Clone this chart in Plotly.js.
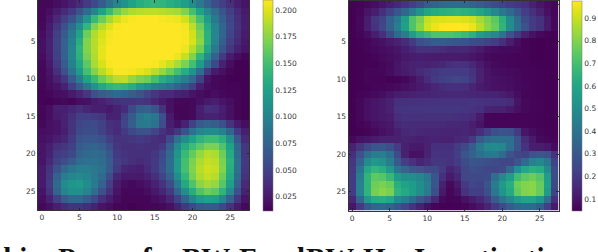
<!DOCTYPE html>
<html><head><meta charset="utf-8">
<script src="https://cdn.plot.ly/plotly-3.0.1.min.js"></script>
<style>html,body{margin:0;padding:0;background:#fff;overflow:hidden}#c{width:598px;height:252px}</style>
</head><body><div id="c"></div>
<script>
const leftValues = [
[15,15,18,22,28,35,45,55,68,85,100,112,125,135,140,142,140,135,130,122,108,90,72,58,48,38,28,22],
[15,18,26,35,45,62,80,100,125,145,165,178,185,188,190,190,188,185,182,172,150,125,102,82,62,48,35,25],
[15,22,34,48,62,85,115,145,165,182,196,204,208,210,210,210,208,206,204,196,175,150,120,92,70,52,38,27],
[16,26,42,60,82,110,142,172,188,200,208,210,210,210,210,210,210,210,210,206,190,165,132,100,75,55,40,28],
[18,28,48,68,92,125,165,186,198,206,210,210,210,210,210,210,210,210,210,208,196,172,138,102,75,52,38,26],
[20,30,50,72,98,135,172,188,200,208,210,210,210,210,210,210,210,210,210,208,198,175,138,100,70,48,35,24],
[20,30,50,72,100,140,172,188,202,210,210,210,210,210,210,210,210,210,210,204,188,165,128,92,62,42,30,22],
[18,28,48,72,100,138,168,186,202,210,210,210,210,210,210,210,210,210,204,192,172,140,105,72,45,26,18,14],
[16,25,45,68,98,130,160,184,198,208,210,210,210,210,210,208,202,194,184,170,150,118,85,55,30,18,12,12],
[15,22,38,60,88,118,150,172,188,200,208,208,206,202,198,188,178,165,150,135,112,82,45,25,20,14,12,12],
[15,20,30,42,68,95,125,145,165,178,188,190,178,170,165,150,135,125,110,95,78,50,22,16,14,12,12,12],
[14,18,22,30,48,68,90,112,130,140,145,142,135,118,110,98,92,85,72,62,48,28,18,16,14,13,13,12],
[13,15,18,20,25,32,42,60,70,75,78,75,70,62,52,42,35,35,30,28,22,18,16,18,16,14,13,12],
[13,12,14,16,14,18,20,26,30,35,38,40,40,42,40,32,25,20,16,15,16,20,24,28,22,18,14,12],
[15,18,28,28,32,38,32,28,28,24,30,36,55,70,72,62,40,20,14,14,16,28,38,36,28,20,14,12],
[14,18,26,30,38,48,48,46,42,30,30,50,68,88,95,88,60,25,15,14,16,26,30,30,26,20,14,12],
[16,20,22,30,40,52,55,56,50,38,36,52,70,90,92,85,58,28,20,30,50,68,72,70,60,40,25,18],
[18,20,22,28,40,55,58,58,50,40,35,45,55,62,62,52,40,32,42,60,85,100,105,105,98,75,45,28],
[20,22,28,32,45,62,65,65,60,48,40,40,42,45,42,38,35,55,85,108,125,140,148,148,138,108,65,35],
[22,28,38,42,50,68,72,75,70,58,42,38,38,40,38,38,45,70,105,132,148,160,170,170,155,125,78,42],
[22,30,45,48,55,72,78,80,78,65,45,40,38,38,38,42,55,78,115,145,162,178,188,185,165,132,82,42],
[22,34,50,58,68,82,85,85,82,68,48,42,38,35,38,45,58,82,118,150,170,185,192,190,170,138,85,45],
[25,40,60,78,88,95,95,90,85,68,45,32,30,28,35,45,60,82,118,150,172,188,195,192,172,135,85,42],
[25,42,72,95,102,105,100,92,80,58,32,25,25,25,30,38,52,72,108,142,168,185,192,188,165,130,80,40],
[25,45,78,105,115,118,108,92,72,48,25,18,16,18,22,30,40,58,92,130,155,175,182,178,158,122,72,35],
[22,40,75,100,110,110,100,82,60,40,22,15,15,15,18,24,32,45,75,108,135,155,165,160,140,105,60,30],
[18,30,50,68,78,78,68,55,38,28,18,14,14,14,15,18,22,32,50,75,100,118,125,122,102,72,42,22],
[16,20,28,35,40,40,36,30,22,18,14,13,12,13,14,14,16,20,30,42,55,65,68,66,55,40,25,16]
];
const rightValues = [
[50,55,65,80,100,125,150,180,215,260,310,340,360,370,370,360,340,310,280,260,230,210,190,170,130,100,75,60],
[50,60,95,125,170,235,295,355,435,520,590,620,635,645,650,640,625,590,540,480,420,360,290,215,175,130,85,60],
[50,65,120,190,230,330,420,560,720,790,890,920,925,930,930,925,905,850,800,740,640,490,370,260,210,175,110,65],
[50,65,120,180,240,340,440,570,720,810,910,945,970,976,976,970,945,880,810,760,650,500,380,280,210,175,110,65],
[50,60,80,120,170,260,360,440,560,640,680,720,720,720,700,680,640,560,520,480,400,280,200,130,90,65,55,50],
[48,52,60,75,90,110,130,160,210,270,290,310,310,300,290,280,260,250,230,210,170,120,80,55,50,48,50,50],
[48,50,60,65,75,85,100,125,150,175,175,170,160,150,145,145,130,110,85,75,70,70,65,55,50,48,50,50],
[48,50,52,60,70,80,90,105,115,125,120,115,115,115,115,110,100,85,70,62,62,60,55,55,50,48,50,50],
[48,50,52,52,62,72,100,118,130,135,130,140,150,170,180,175,150,115,85,70,62,60,55,55,52,50,50,50],
[48,50,60,60,62,75,100,115,130,155,175,195,205,210,210,205,180,130,95,80,75,70,65,60,55,52,50,50],
[48,50,58,55,55,50,52,62,85,120,160,200,220,230,240,235,190,130,100,90,82,75,70,60,55,52,50,50],
[48,50,52,60,60,65,72,85,95,110,125,145,160,170,170,165,140,115,100,90,85,80,70,62,55,52,50,50],
[48,55,62,70,80,100,120,125,130,135,140,145,150,150,150,150,145,140,135,135,125,105,80,60,55,52,50,50],
[50,62,85,100,110,130,170,175,175,175,180,180,180,180,180,180,185,180,175,170,170,160,95,65,60,55,50,50],
[50,62,85,100,110,130,180,185,185,185,190,190,190,190,190,185,180,170,135,130,130,110,85,65,60,55,50,50],
[50,62,85,100,110,120,165,175,175,175,175,175,175,175,170,165,155,110,60,55,55,55,55,55,55,52,50,50],
[48,55,65,85,95,105,150,160,155,155,155,155,155,150,150,145,125,95,60,58,58,60,60,60,55,52,50,50],
[48,50,55,70,85,100,125,150,155,150,145,145,140,140,140,145,130,165,215,270,280,275,210,100,75,60,52,50],
[65,90,100,115,130,130,130,135,130,125,130,135,130,130,150,155,200,310,370,390,390,380,280,160,110,70,60,55],
[130,190,250,290,300,270,210,130,110,105,130,170,170,170,210,250,320,420,480,490,470,380,280,180,125,120,105,75],
[170,280,380,430,440,380,260,130,85,90,135,180,180,180,220,290,340,380,420,420,370,280,240,230,280,300,280,180],
[190,330,490,540,520,440,310,220,180,140,160,190,190,180,210,260,290,280,270,260,240,240,290,370,450,470,420,230],
[200,400,600,660,630,540,410,350,300,280,260,250,200,140,170,240,270,260,240,240,260,350,510,600,640,620,490,260],
[210,440,650,740,730,670,550,510,500,470,420,290,170,110,150,240,250,250,260,380,480,560,690,740,770,730,560,260],
[210,450,650,770,790,760,630,580,550,500,440,290,130,70,110,200,240,230,290,430,550,630,770,800,810,760,570,250],
[210,450,650,780,810,790,650,610,560,500,430,270,110,60,90,180,220,220,270,420,530,610,750,800,810,760,550,230],
[150,350,540,620,630,600,490,440,370,300,240,150,70,55,60,90,120,150,200,310,410,480,550,590,590,530,380,170],
[100,200,300,350,360,340,290,240,180,130,85,60,50,50,52,60,75,100,140,200,260,310,350,370,360,320,220,110]
];
const axisTicks = [0,5,10,15,20,25];
const leftBarTicks = [0.025,0.05,0.075,0.1,0.125,0.15,0.175,0.2];
const rightBarTicks = [0.1,0.2,0.3,0.4,0.5,0.6,0.7,0.8,0.9];
const captionWords = ["Masking","Power","for","BW-F","and","BW-H.","Investigating"];

const W = 598, H = 252;
const captionLeft = [-50,58,142,182,258,306,414];
const toUnit = m => m.map(r => r.map(v => v / 1000));
const tickFont = {family: "DejaVu Sans", size: 7.5, color: "#333"};
function bar(tickvals, fmt, xPx, top, bottom) {
  return {x: xPx / W, xanchor: "left", xpad: 0, ypad: 0, thickness: 10, thicknessmode: "pixels",
    y: 1 - top / H, yanchor: "top", len: (bottom - top) / H, lenmode: "fraction",
    tickmode: "array", tickvals, ticktext: tickvals.map(v => v.toFixed(fmt)), ticks: "", tickfont: tickFont,
    outlinewidth: 0.5, outlinecolor: "#777"};
}
function xAxis(a, b, anchor) {
  return {domain: [a / W, b / W], range: [-0.5, 27.5], anchor, tickmode: "array", tickvals: axisTicks,
    ticks: "inside", ticklen: 2.5, tickwidth: 0.8, tickcolor: "#222", showgrid: false, zeroline: false,
    showline: true, linecolor: "#333", linewidth: 1, mirror: "ticks", tickfont: tickFont};
}
function yAxis(t, b, anchor) {
  return {domain: [1 - b / H, 1 - t / H], range: [27.5, -0.5], anchor, tickmode: "array", tickvals: axisTicks,
    ticks: "inside", ticklen: 2.5, tickwidth: 0.8, tickcolor: "#222", showgrid: false, zeroline: false,
    showline: true, linecolor: "#333", linewidth: 1, mirror: "ticks", tickfont: tickFont};
}
const traces = [
  {type: "heatmap", z: toUnit(leftValues), xaxis: "x", yaxis: "y", colorscale: "Viridis", zmin: 0.0115, zmax: 0.2095,
   colorbar: bar(leftBarTicks, 3, 263, 0, 210.5), hoverinfo: "skip"},
  {type: "heatmap", z: toUnit(rightValues), xaxis: "x2", yaxis: "y2", colorscale: "Viridis", zmin: 0.047, zmax: 0.976,
   colorbar: bar(rightBarTicks, 1, 572, 1, 210.5), hoverinfo: "skip"}
];
const layout = {
  width: W, height: H, margin: {l: 0, r: 0, t: 0, b: 0}, paper_bgcolor: "#fff", plot_bgcolor: "#fff", showlegend: false,
  xaxis: xAxis(38, 249, "y"), yaxis: yAxis(0, 210, "x"),
  xaxis2: xAxis(348.5, 558.5, "y2"), yaxis2: yAxis(0.5, 210.5, "x2"),
  annotations: captionWords.map((w, i) => ({text: "<b>" + w + "</b>", xref: "paper", yref: "paper",
    x: captionLeft[i] / W, y: 1 - 242 / H, xanchor: "left", yanchor: "top", showarrow: false, borderpad: 0, borderwidth: 0,
    font: {family: "Liberation Serif", size: 29, color: "#111"}}))
};
Plotly.newPlot("c", traces, layout, {displayModeBar: false, staticPlot: true});
</script></body></html>
